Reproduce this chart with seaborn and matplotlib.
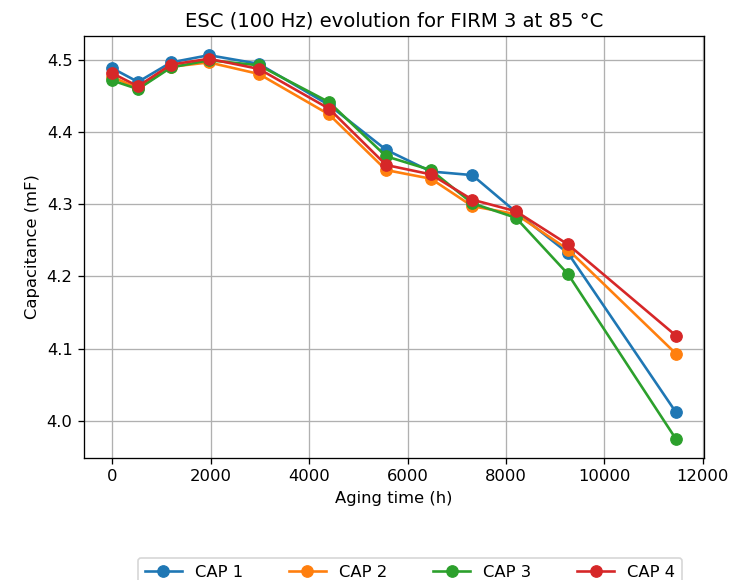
import matplotlib
matplotlib.use("Agg")
import matplotlib.pyplot as plt
import seaborn as sns
import pandas as pd

# Aging time checkpoints (h)
aging_time = [0, 525, 1195, 1965, 2980, 4405, 5565, 6475, 7315, 8200, 9260, 11450]

# Capacitance measured at 100 Hz (mF)
cap1 = [4.488, 4.469, 4.496, 4.506, 4.494, 4.437, 4.375, 4.345, 4.340, 4.289, 4.232, 4.012]
cap2 = [4.476, 4.460, 4.490, 4.496, 4.480, 4.424, 4.347, 4.335, 4.297, 4.286, 4.237, 4.093]
cap3 = [4.471, 4.459, 4.489, 4.499, 4.492, 4.441, 4.366, 4.347, 4.301, 4.281, 4.203, 3.975]
cap4 = [4.481, 4.463, 4.493, 4.501, 4.487, 4.432, 4.354, 4.341, 4.306, 4.290, 4.244, 4.118]

series_names = ["CAP 1", "CAP 2", "CAP 3", "CAP 4"]
series_values = [cap1, cap2, cap3, cap4]
colors = ["#1f77b4", "#ff7f0e", "#2ca02c", "#d62728"]

df = pd.concat(
    [pd.DataFrame({"time": aging_time, "cap": vals, "name": name})
     for name, vals in zip(series_names, series_values)],
    ignore_index=True,
)

dpi = 118
fig = plt.figure(figsize=(742 / dpi, 580 / dpi), dpi=dpi)
ax = fig.add_axes([84 / 742, 1 - 458 / 580, 620 / 742, 422 / 580])

for name, color in zip(series_names, colors):
    sub = df[df["name"] == name]
    sns.lineplot(data=sub, x="time", y="cap", ax=ax, color=color, marker="o",
                 markersize=7, markeredgecolor=color, linewidth=1.6,
                 label=name, legend=False)

ax.grid(True, color="#b0b0b0", linewidth=0.8)
ax.set_axisbelow(True)
ax.set_xticks([0, 2000, 4000, 6000, 8000, 10000, 12000])
ax.set_xlabel("Aging time (h)", fontsize=10)
ax.set_ylabel("Capacitance (mF)", fontsize=10)
ax.set_title("ESC (100 Hz) evolution for FIRM 3 at 85 °C", fontsize=12)
ax.tick_params(labelsize=10)

handles, labels = ax.get_legend_handles_labels()
fig.legend(handles, labels, loc="upper center", ncol=4,
           bbox_to_anchor=(410 / 742, 1 - 550 / 580), fontsize=10,
           frameon=True, columnspacing=2.75, handlelength=2.3)

fig.savefig("out.png", dpi=dpi)
